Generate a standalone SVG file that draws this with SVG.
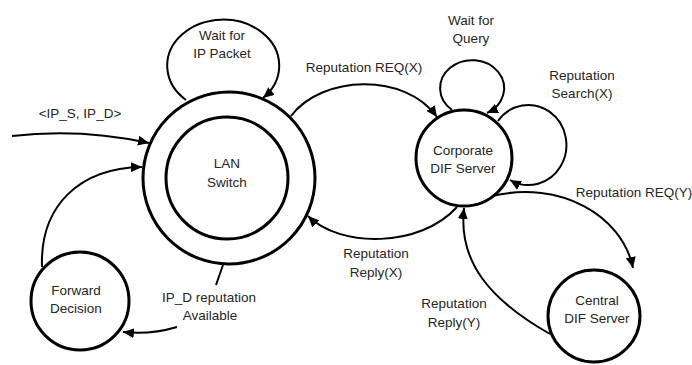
<svg xmlns="http://www.w3.org/2000/svg" width="692" height="365" viewBox="0 0 692 365">
<defs>
<marker id="arr" markerUnits="userSpaceOnUse" markerWidth="12" markerHeight="10" refX="11" refY="5" orient="auto">
<path d="M0,0 L11,5 L0,10 Z" fill="#000"/>
</marker>
<style>
.node{fill:none;stroke:#000;stroke-width:3}
.edge{fill:none;stroke:#000;stroke-width:2;marker-end:url(#arr)}
.plain{fill:none;stroke:#000;stroke-width:2}
text{font-family:"Liberation Sans",Arial,sans-serif;font-size:13.5px;fill:#262626;text-anchor:middle}
</style>
</defs>
<rect width="692" height="365" fill="#fff"/>
<g id="connectors">
<path class="edge" d="M186,100 A56,46 0 1 1 263,98"/>
<path class="edge" d="M12,136 Q80,128 149,143"/>
<path class="edge" d="M42,267 C40,205 80,168 142,167"/>
<path class="plain" d="M223,265 L216,285"/>
<path class="edge" d="M177,327 Q150,335 123,332"/>
<path class="edge" d="M291,116 C322,75 405,72 437,117"/>
<path class="edge" d="M457,207 C420,248 340,248 308,216"/>
<path class="edge" d="M452,110 A32,28 0 1 1 487,113"/>
<path class="edge" d="M498,121 A38,40 0 1 1 510,180"/>
<path class="edge" d="M492,196 C560,180 622,215 633,268"/>
<path class="edge" d="M550,334 C490,300 458,262 464,208"/>
</g>
<g id="lan-switch">
<circle class="node" cx="229" cy="178" r="86"/>
<circle class="node" cx="227" cy="178" r="61"/>
<text x="227" y="168">LAN</text>
<text x="227" y="187">Switch</text>
</g>
<g id="wait-ip">
<text x="222" y="40">Wait for</text>
<text x="222" y="58">IP Packet</text>
</g>
<g id="ip-input">
<text x="80" y="118">&lt;IP_S, IP_D&gt;</text>
</g>
<g id="forward">
<circle class="node" cx="80" cy="301" r="49"/>
<text x="76" y="295">Forward</text>
<text x="76" y="313">Decision</text>
</g>
<g id="ipd-label">
<text x="209" y="302">IP_D reputation</text>
<text x="210" y="320">Available</text>
</g>
<g id="corporate">
<circle class="node" cx="464" cy="158" r="48"/>
<text x="463" y="155">Corporate</text>
<text x="463" y="173">DIF Server</text>
</g>
<g id="wait-query">
<text x="471" y="25">Wait for</text>
<text x="471" y="43">Query</text>
</g>
<g id="search-label">
<text x="582" y="80">Reputation</text>
<text x="582" y="98">Search(X)</text>
</g>
<g id="central">
<circle class="node" cx="594" cy="316" r="46"/>
<text x="597" y="305">Central</text>
<text x="597" y="323">DIF Server</text>
</g>
<g id="labels">
<text x="364" y="72">Reputation REQ(X)</text>
<text x="634" y="197">Reputation REQ(Y)</text>
<text x="376" y="258">Reputation</text>
<text x="376" y="277">Reply(X)</text>
<text x="454" y="308">Reputation</text>
<text x="454" y="327">Reply(Y)</text>
</g>
</svg>
